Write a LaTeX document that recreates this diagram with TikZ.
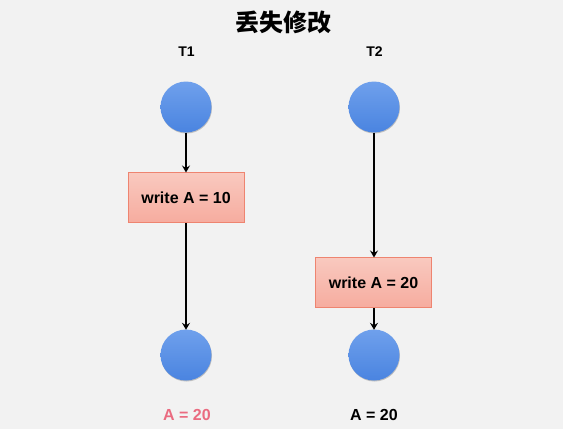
\documentclass[tikz,border=0pt]{standalone}
\usepackage{fontspec}
\setmainfont{Liberation Sans}
\newfontfamily\cjk{Noto Sans CJK SC}
\usetikzlibrary{shadows,arrows.meta}
\definecolor{bg}{HTML}{F2F2F2}
\definecolor{ctop}{HTML}{6FA0EC}
\definecolor{cbot}{HTML}{4A84E0}
\definecolor{btop}{HTML}{F9C9BF}
\definecolor{bbot}{HTML}{F6AC9F}
\definecolor{bdraw}{HTML}{EE8470}
\definecolor{redtxt}{HTML}{EA6B80}
\begin{document}
\begin{tikzpicture}[x=1pt,y=-1pt,
  state/.style={circle,minimum size=51pt,inner sep=0pt,top color=ctop,bottom color=cbot,draw=none,
    drop shadow={shadow xshift=0.5pt,shadow yshift=-1pt,opacity=0.3,fill=black!70}},
  opbox/.style={rectangle,minimum width=116pt,minimum height=50pt,top color=btop,bottom color=bbot,draw=bdraw,line width=1pt,
    font=\fontsize{16}{18}\selectfont\bfseries},
  lbl/.style={font=\fontsize{14}{16}\selectfont\bfseries},
  res/.style={font=\fontsize{16}{18}\selectfont\bfseries},
  conn/.style={-{Stealth[length=7pt,width=8pt,inset=2.5pt]},line width=1.6pt,black,shorten >=-0.5pt}]
\fill[bg] (0,0) rectangle (563,429);
\useasboundingbox (0,0) rectangle (563,429);
\node[font=\cjk\fontsize{24}{28}\selectfont\bfseries] (title) at (283,22) {丢失修改};
\node[lbl] (t1) at (186.5,52) {T1};
\node[lbl] (t2) at (374.5,52) {T2};
\node[state] (c1) at (186,107) {};
\node[state] (c2) at (374,107) {};
\node[opbox] (b1) at (186,197.5) {write A = 10};
\node[opbox] (b2) at (373.5,282.5) {write A = 20};
\node[state] (c3) at (186,355) {};
\node[state] (c4) at (374,355) {};
\node[res,text=redtxt] (r1) at (187,415) {A = 20};
\node[res] (r2) at (374,415) {A = 20};
\draw[conn] (c1) -- (b1);
\draw[conn] (b1) -- (c3);
\draw[conn] (c2) -- (c2 |- b2.north);
\draw[conn] (b2.south -| c4) -- (c4);
\end{tikzpicture}
\end{document}
